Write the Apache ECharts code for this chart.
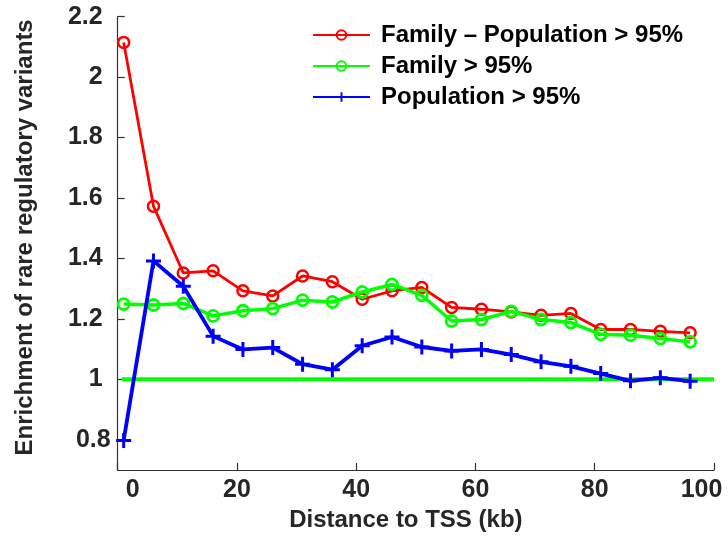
<!DOCTYPE html>
<html>
<head>
<meta charset="utf-8">
<script src="https://cdn.jsdelivr.net/npm/echarts@6/dist/echarts.min.js"></script>
<style>
html,body{margin:0;padding:0;background:#fff;}
#chart{width:728px;height:537px;}
</style>
</head>
<body>
<div id="chart"></div>
<script>
const distances = [1, 6, 11, 16, 21, 26, 31, 36, 41, 46, 51, 56, 61, 66, 71, 76, 81, 86, 91, 96];
const familyMinusPopulation = [2.115, 1.573, 1.352, 1.359, 1.293, 1.276, 1.342, 1.323, 1.265, 1.293, 1.304, 1.238, 1.232, 1.223, 1.212, 1.218, 1.165, 1.165, 1.159, 1.154];
const family = [1.249, 1.246, 1.251, 1.210, 1.227, 1.234, 1.262, 1.256, 1.289, 1.314, 1.278, 1.193, 1.198, 1.225, 1.198, 1.188, 1.149, 1.146, 1.135, 1.124];
const population = [0.798, 1.392, 1.308, 1.143, 1.099, 1.105, 1.050, 1.032, 1.111, 1.140, 1.107, 1.094, 1.099, 1.082, 1.058, 1.043, 1.019, 0.995, 1.005, 0.994];
const baselineX = [0.7, 100];
const baselineY = [1, 1];
const yTickValues = [0.8, 1, 1.2, 1.4, 1.6, 1.8, 2, 2.2];
const yTickLabels = ['0.8', '1', '1.2', '1.4', '1.6', '1.8', '2', '2.2'];
const xTickLabels = ['0', '20', '40', '60', '80', '100'];
const seriesNames = ['Family \u2013 Population > 95%', 'Family > 95%', 'Population > 95%'];

const pair = (xs, ys) => xs.map((x, i) => [x, ys[i]]);
const plusPath = 'path://M6,0H9V6H15V9H9V15H6V9H0V6H6Z';
const FONT = '"Liberation Sans", Arial, sans-serif';

const chart = echarts.init(document.getElementById('chart'), null, {renderer: 'canvas'});
chart.setOption({
  animation: false,
  backgroundColor: '#fff',
  grid: {left: 117.7, right: 14, top: 16.7, bottom: 67, containLabel: false, outerBoundsMode: 'none'},
  legend: {
    orient: 'vertical', left: 312, top: 23, padding: 0,
    itemWidth: 57, itemHeight: 12, itemGap: 7,
    data: seriesNames,
    textStyle: {fontFamily: FONT, fontWeight: 'bold', fontSize: 24, color: '#000', lineHeight: 24, padding: [0, 0, 0, 6]}
  },
  xAxis: {
    type: 'value', min: 0, max: 100, interval: 20,
    name: 'Distance to TSS (kb)', nameLocation: 'middle', nameGap: 36,
    nameTextStyle: {fontFamily: FONT, fontWeight: 'bold', fontSize: 24, color: '#262626', padding: [0, 20, 0, 0]},
    axisLine: {show: true, lineStyle: {color: '#333', width: 1.2}},
    axisTick: {show: true, inside: true, length: 7, lineStyle: {color: '#333', width: 1.2}},
    splitLine: {show: false},
    axisLabel: {
      margin: 8, fontFamily: FONT, fontWeight: 'bold', fontSize: 25, color: '#262626',
      formatter: v => {
        const i = Math.round(v / 20); const t = xTickLabels[i];
        if (i === 0) return '{z|' + t + '}';
        if (i === xTickLabels.length - 1) return '{e|' + t + '}';
        return '{n|' + t + '}';
      },
      rich: {
        z: {fontFamily: FONT, fontWeight: 'bold', fontSize: 25, color: '#262626', padding: [0, 0, 0, 30]},
        e: {fontFamily: FONT, fontWeight: 'bold', fontSize: 25, color: '#262626', padding: [0, 25, 0, 0]},
        n: {fontFamily: FONT, fontWeight: 'bold', fontSize: 25, color: '#262626'}
      }
    }
  },
  yAxis: {
    type: 'value', min: 0.7, max: 2.2,
    name: 'Enrichment of rare regulatory variants', nameLocation: 'middle', nameGap: 80,
    nameTextStyle: {fontFamily: FONT, fontWeight: 'bold', fontSize: 24, color: '#262626', padding: [0, 0, 0, 12]},
    axisLine: {show: true, lineStyle: {color: '#333', width: 1.2}},
    axisTick: {show: true, inside: true, length: 7, customValues: yTickValues, lineStyle: {color: '#333', width: 1.2}},
    splitLine: {show: false},
    axisLabel: {
      margin: 7, customValues: yTickValues, fontFamily: FONT, fontWeight: 'bold', fontSize: 25, color: '#262626',
      formatter: v => { const i = yTickValues.findIndex(t => Math.abs(t - v) < 1e-6); const t = yTickLabels[i]; return i === 0 ? '{z|' + t + '}' : '{n|' + t + '}'; },
      rich: {
        z: {fontFamily: FONT, fontWeight: 'bold', fontSize: 25, color: '#262626'},
        n: {fontFamily: FONT, fontWeight: 'bold', fontSize: 25, color: '#262626', padding: [0, 8, 0, 0]}
      }
    }
  },
  series: [
    {
      name: seriesNames[0], type: 'line', data: pair(distances, familyMinusPopulation),
      symbol: 'circle', symbolSize: 11, showAllSymbol: true, z: 2,
      lineStyle: {color: '#ff0000', width: 2.8},
      itemStyle: {color: 'rgba(255,255,255,0)', borderColor: '#ff0000', borderWidth: 2.5}
    },
    {
      name: seriesNames[1], type: 'line', data: pair(distances, family),
      symbol: 'circle', symbolSize: 11, showAllSymbol: true, z: 3,
      lineStyle: {color: '#00ff00', width: 3.5},
      itemStyle: {color: 'rgba(255,255,255,0)', borderColor: '#00ff00', borderWidth: 2.8}
    },
    {
      name: 'baseline', type: 'line', data: pair(baselineX, baselineY),
      symbol: 'none', z: 3, silent: true,
      lineStyle: {color: '#00ff00', width: 4, cap: 'butt'}
    },
    {
      name: seriesNames[2], type: 'line', data: pair(distances, population),
      symbol: plusPath, symbolSize: 15, showAllSymbol: true, z: 4,
      lineStyle: {color: '#0000ff', width: 3.8},
      itemStyle: {color: '#0000ff'}
    }
  ]
});
</script>
</body>
</html>
